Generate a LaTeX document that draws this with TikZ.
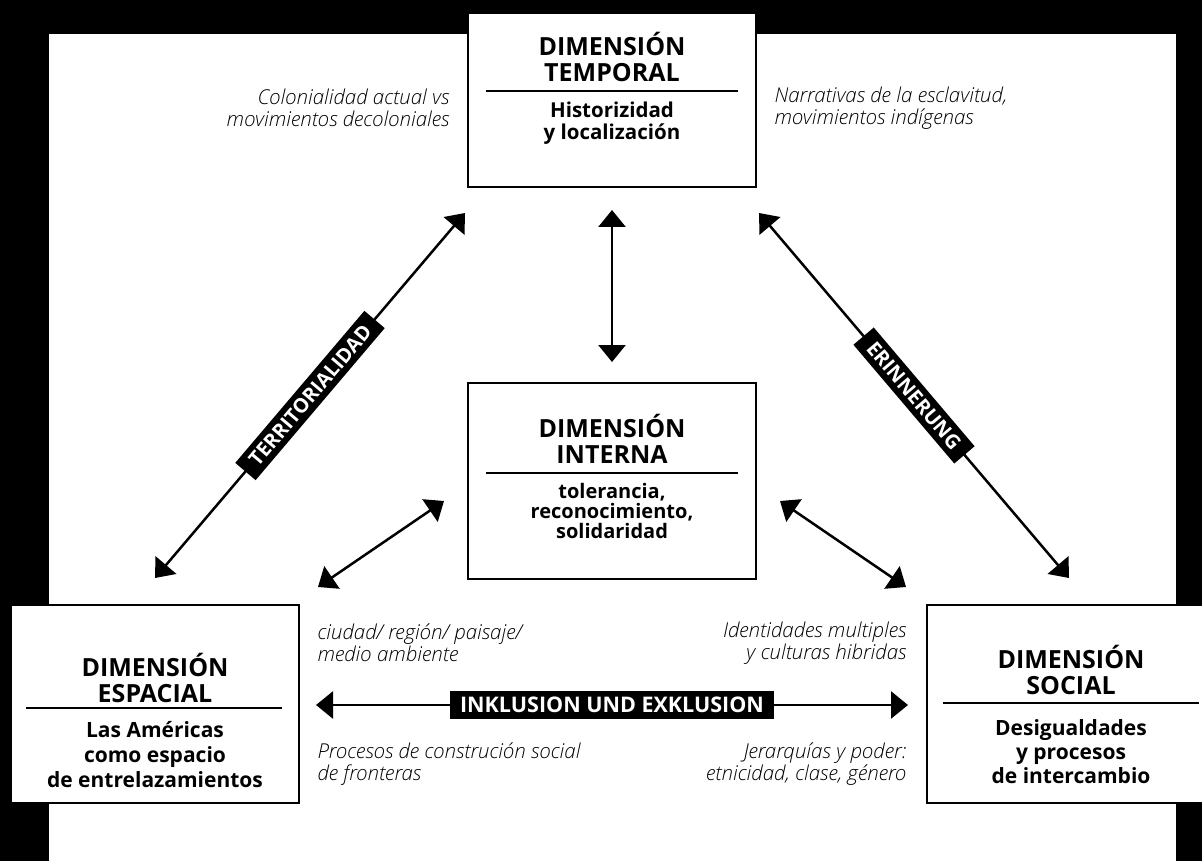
\documentclass[tikz,border=0pt]{standalone}
\usepackage{fontspec}
\setmainfont{Open Sans}
\newfontfamily\lightit{Open Sans Light Italic}
\usetikzlibrary{arrows.meta}

\tikzset{
  dimbox/.style={draw, line width=2.5pt, fill=white, minimum width=288pt, inner sep=0pt},
  dimtitle/.style={font=\fontsize{25}{26}\selectfont\bfseries, align=center},
  dimbody/.style={font=\fontsize{21}{24}\selectfont\bfseries, align=center},
  note/.style={font=\fontsize{20.5}{22}\selectfont\lightit},
  band/.style={fill=black, text=white, font=\fontsize{20}{20}\selectfont\bfseries, inner xsep=11pt, inner ysep=6pt},
  link/.style={line width=2.5pt, {Triangle[length=17pt,width=27pt]}-{Triangle[length=17pt,width=27pt]}}
}

\begin{document}
\begin{tikzpicture}[x=1pt,y=-1pt]
\useasboundingbox (0,0) rectangle (1202,861);
\clip (0,0) rectangle (1202,861);
\fill[black] (0,0) rectangle (1202,861);
\fill[white] (49,34) rectangle (1176,861);

% boxes
\node[dimbox, minimum height=174pt] (temporal) at (612,100) {};
\node[dimtitle] (temporalT) at (612,57) {DIMENSIÓN\\TEMPORAL};
\draw[line width=2pt] (486,91) -- (738,91);
\node[dimbody, font=\fontsize{20.5}{22}\selectfont\bfseries] (temporalB) at (612,123) {Historizidad\\y localización};

\node[dimbox, minimum height=196pt] (interna) at (612,481) {};
\node[dimtitle] (internaT) at (612,439) {DIMENSIÓN\\INTERNA};
\draw[line width=2pt] (486,473) -- (738,473);
\node[dimbody, font=\fontsize{20}{20}\selectfont\bfseries] (internaB) at (612,511) {tolerancia,\\reconocimiento,\\solidaridad};

\node[dimbox, minimum height=198pt] (espacial) at (155,704) {};
\node[dimtitle] (espacialT) at (155,678) {DIMENSIÓN\\ESPACIAL};
\draw[line width=2pt] (26,708) -- (282,708);
\node[dimbody, font=\fontsize{21}{25}\selectfont\bfseries] (espacialB) at (155,755) {Las Américas\\como espacio\\de entrelazamientos};

\node[dimbox, minimum height=198pt] (social) at (1071,704) {};
\node[dimtitle] (socialT) at (1071,670) {DIMENSIÓN\\SOCIAL};
\draw[line width=2pt] (943,703) -- (1199,703);
\node[dimbody, font=\fontsize{21}{24}\selectfont\bfseries] (socialB) at (1071,752) {Desigualdades\\y procesos\\de intercambio};

% notes
\node[note, anchor=east, align=right] (n1) at (453,108) {Colonialidad actual vs\\movimientos decoloniales};
\node[note, anchor=west, align=left] (n2) at (771,108) {Narrativas de la esclavitud,\\movimientos indígenas};
\node[note, anchor=west, align=left] (n3) at (314,643) {ciudad/ región/ paisaje/\\medio ambiente};
\node[note, anchor=east, align=right] (n4) at (910,643) {Identidades multiples\\y culturas hibridas};
\node[note, anchor=west, align=left] (n5) at (314,764) {Procesos de construción social\\de fronteras};
\node[note, anchor=east, align=right] (n6) at (910,764) {Jerarquías y poder:\\etnicidad, clase, género};

% arrow ends
\coordinate (terrTop) at (465,213);
\coordinate (terrBot) at (155,578);
\coordinate (erinTop) at (759,213);
\coordinate (erinBot) at (1069,578);
\coordinate (vertTop) at (612,210);
\coordinate (vertBot) at (612,362);
\coordinate (leftTop) at (444,501);
\coordinate (leftBot) at (318,587);
\coordinate (rightTop) at (780,501);
\coordinate (rightBot) at (906,587);
\coordinate (inklL) at (316,705);
\coordinate (inklR) at (908,705);

\draw[link] (terrBot) -- node[band, sloped] (terr) {TERRITORIALIDAD} (terrTop);
\draw[link] (erinTop) -- node[band, sloped] (erin) {ERINNERUNG} (erinBot);
\draw[link] (vertTop) -- (vertBot);
\draw[link] (leftBot) -- (leftTop);
\draw[link] (rightTop) -- (rightBot);
\draw[link] (inklL) -- node[band, font=\fontsize{21.5}{21.5}\selectfont\bfseries, inner xsep=10pt, inner ysep=6pt] (inkl) {INKLUSION UND EXKLUSION} (inklR);
\end{tikzpicture}
\end{document}
